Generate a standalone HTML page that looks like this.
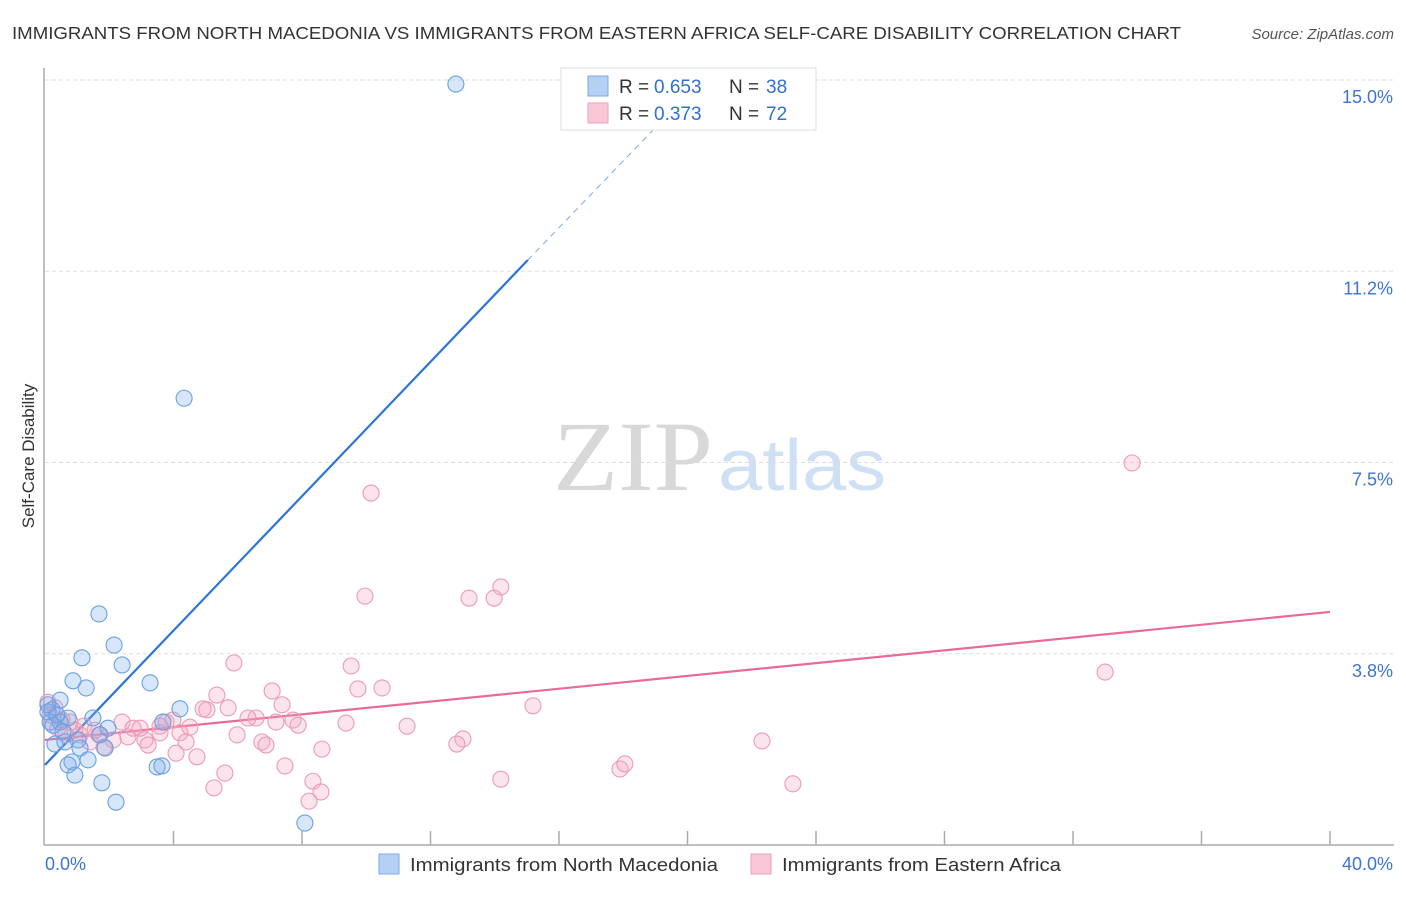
<!DOCTYPE html>
<html><head><meta charset="utf-8"><style>
body{margin:0;background:#fff;font-family:"Liberation Sans",sans-serif;}
</style></head><body>
<svg id="chart" width="1406" height="892" xmlns="http://www.w3.org/2000/svg" font-family="Liberation Sans, sans-serif">
<text x="12" y="39" font-size="17.5" fill="#333" textLength="1169" lengthAdjust="spacingAndGlyphs">IMMIGRANTS FROM NORTH MACEDONIA VS IMMIGRANTS FROM EASTERN AFRICA SELF-CARE DISABILITY CORRELATION CHART</text>
<text x="1394" y="39" font-size="15" fill="#555" font-style="italic" text-anchor="end">Source: ZipAtlas.com</text>
<g>
<text x="553" y="490" font-size="100" fill="#d8d8d8" style="font-family:'Liberation Serif',serif" textLength="160" lengthAdjust="spacingAndGlyphs">ZIP</text>
<text x="718" y="490" font-size="72" fill="#cfe0f4" textLength="168" lengthAdjust="spacingAndGlyphs">atlas</text>
</g>
<text transform="translate(34,456) rotate(-90)" font-size="17" fill="#333" text-anchor="middle">Self-Care Disability</text>
<g id="grid"></g><g id="axes"></g><g id="lines"></g><g id="pts"></g>
<g>
<rect x="561" y="68" width="255" height="62" fill="#fff" stroke="#ddd"/>
<rect x="588" y="76" width="20" height="20" fill="#b5d0f2" stroke="#7aa9e4"/>
<rect x="588" y="103" width="20" height="20" fill="#f9c7d6" stroke="#eba2b9"/>
<text x="619" y="93" font-size="19" fill="#333">R =</text><text x="654" y="93" font-size="19" fill="#2f6fd6">0.653</text>
<text x="729" y="93" font-size="19" fill="#333">N =</text><text x="766" y="93" font-size="19" fill="#2f6fd6">38</text>
<text x="619" y="120" font-size="19" fill="#333">R =</text><text x="654" y="120" font-size="19" fill="#2f6fd6">0.373</text>
<text x="729" y="120" font-size="19" fill="#333">N =</text><text x="766" y="120" font-size="19" fill="#2f6fd6">72</text>
</g>
<g>
<rect x="379" y="854" width="20" height="20" fill="#b5d0f2" stroke="#7aa9e4"/>
<text x="410" y="871" font-size="18" fill="#333" textLength="308" lengthAdjust="spacingAndGlyphs">Immigrants from North Macedonia</text>
<rect x="751" y="854" width="20" height="20" fill="#f9c7d6" stroke="#eba2b9"/>
<text x="782" y="871" font-size="18" fill="#333" textLength="279" lengthAdjust="spacingAndGlyphs">Immigrants from Eastern Africa</text>
</g>
</svg>
<script>
const yTicks=[3.75,7.5,11.25,15];
const yTickLabels=["3.8%","7.5%","11.2%","15.0%"];
const xTickLabels=["0.0%","40.0%"];
const blueX=[12.79,4.33,1.68,2.15,1.15,2.40,3.27,0.87,0.47,1.28,0.22,0.09,0.72,1.49,4.20,0.25,0.47,1.96,0.56,1.03,0.31,0.62,1.09,1.87,3.67,1.34,0.84,0.72,0.93,3.49,3.64,1.77,2.21,8.09,0.16,1.71,0.37,0.09];
const blueY=[14.92,8.76,4.53,3.92,3.67,3.53,3.18,3.22,2.84,3.08,2.65,2.61,2.49,2.49,2.67,2.35,2.41,2.29,2.22,2.06,1.98,2.02,1.90,1.90,2.41,1.67,1.63,1.57,1.37,1.53,1.55,1.22,0.84,0.43,2.41,2.16,2.55,2.75];
const pinkX=[33.84,10.15,14.19,13.20,13.98,9.96,33.00,9.53,5.88,10.49,9.74,7.07,5.35,7.38,15.19,4.92,5.04,5.70,6.57,6.32,7.72,7.19,7.88,9.37,11.27,3.98,4.51,2.40,2.74,3.58,3.77,5.98,2.58,3.11,1.68,2.12,1.40,4.20,4.39,6.75,6.88,8.62,4.08,4.73,13.01,12.82,22.32,3.21,1.84,7.47,5.60,17.90,18.05,14.19,8.34,5.26,8.59,8.22,23.28,0.09,0.31,0.53,0.78,0.40,0.93,1.21,0.16,1.56,1.09,0.65,2.96,3.58];
const pinkY=[7.49,6.90,5.06,4.84,4.84,4.88,3.39,3.51,3.57,3.08,3.06,3.02,2.94,2.75,2.73,2.67,2.65,2.69,2.49,2.49,2.45,2.41,2.35,2.39,2.33,2.45,2.31,2.41,2.29,2.33,2.41,2.16,2.12,2.06,2.16,2.06,2.02,2.20,2.02,2.02,1.96,1.88,1.80,1.73,2.08,1.98,2.04,1.96,1.92,1.55,1.41,1.49,1.59,1.29,1.25,1.12,1.04,0.86,1.20,2.80,2.69,2.45,2.41,2.29,2.25,2.33,2.55,2.25,2.16,2.16,2.29,2.20];
const blueTrend=[[0,1.57],[15.03,11.47]];
const blueTrendDash=[[15.03,11.47],[18.99,14.06]];
const pinkTrend=[[0,2.06],[40,4.57]];
const NS="http://www.w3.org/2000/svg";
const sx=v=>45+v*32.125, sy=v=>845-v*51;
function mk(tag,parent,attrs){const e=document.createElementNS(NS,tag);for(const k in attrs)e.setAttribute(k,attrs[k]);document.getElementById(parent).appendChild(e);return e;}
yTicks.forEach((t,i)=>{
 const g=mk('line','grid',{x1:45,x2:1394,y1:sy(t),y2:sy(t),stroke:'#ddd','stroke-dasharray':'4,3'});
 
 
 const l=mk('text','grid',{x:1393,y:sy(t)+23,'font-size':18,fill:'#3d74d1','text-anchor':'end'});l.textContent=yTickLabels[i];
 
 
});
let ax=mk('line','axes',{x1:44,x2:44,y1:68,y2:845,stroke:'#aaa','stroke-width':1.5});


ax=mk('line','axes',{x1:44,x2:1394,y1:845,y2:845,stroke:'#aaa','stroke-width':1.5});


for(let i=1;i<=10;i++){const t=mk('line','axes',{x1:sx(i*4),x2:sx(i*4),y1:831,y2:845,stroke:'#aaa','stroke-width':1.5});
 
 }
[[0,'start',45],[1,'end',1393]].forEach(([i,a,x])=>{const l=mk('text','axes',{x:x,y:870,'font-size':18,fill:'#3d74d1','text-anchor':a});l.textContent=xTickLabels[i];
 
 });
function pts(X,Y,fill,stroke,name){X.forEach((x,i)=>{const c=mk('circle','pts',{cx:sx(x),cy:sy(Y[i]),r:8,fill:fill,stroke:stroke,'stroke-width':1.1});
 
 });}
pts(pinkX,pinkY,'rgba(245,165,192,0.3)','#eb9bb5','pink-point');
pts(blueX,blueY,'rgba(125,172,235,0.3)','#6aa0e2','blue-point');
function ln(p,stroke,dash,name){const e=mk('line','lines',{x1:sx(p[0][0]),y1:sy(p[0][1]),x2:sx(p[1][0]),y2:sy(p[1][1]),stroke:stroke,'stroke-width':dash?1:2.2});if(dash)e.setAttribute('stroke-dasharray','6,5');
 
 }
ln(blueTrend,'#2c74d8',false,'blue-trend-line');
ln(blueTrendDash,'#7aa9e4',true,'blue-trend-extension');
ln(pinkTrend,'#e86b96',false,'pink-trend-line');
</script>
</body></html>
